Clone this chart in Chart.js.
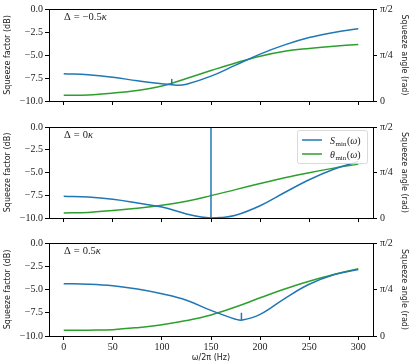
<!DOCTYPE html>
<html>
<head>
<meta charset="utf-8">
<script src="https://cdn.jsdelivr.net/npm/chart.js@4.4.1/dist/chart.umd.min.js"></script>
<style>
    body { margin: 0; background: #fff; width: 415px; height: 364px; position: relative; overflow: hidden; }
    canvas { position: absolute; left: 0; }
</style>
</head>
<body>
<canvas id="painel1" width="415" height="112" style="top:0px"></canvas>
<canvas id="painel2" width="415" height="111" style="top:118px"></canvas>
<canvas id="painel3" width="415" height="130" style="top:234px"></canvas>
<script>
// dados
var ticksX = [0, 50, 100, 150, 200, 250, 300];
var ticksFator = [-10, -7.5, -5, -2.5, 0];
var ticksAngulo = [0, Math.PI / 4, Math.PI / 2];
var rotulosAngulo = ['0', 'π/4', 'π/2'];
var rotulosDelta = ['−0.5', '0', '0.5'];

var freqAngulo = [0, 25, 50, 75, 100, 125, 150, 175, 200, 225, 250, 275, 300];

var freqFator1 = [0, 25, 50, 75, 100, 115, 125, 150, 175, 200, 225, 250, 275, 300];
var fator1 = [-7.04, -7.15, -7.42, -7.8, -8.12, -8.28, -8.18, -7.3, -6.1, -4.9, -3.9, -3.1, -2.55, -2.15];
var angulo1 = [0.097, 0.104, 0.135, 0.181, 0.255, 0.385, 0.52, 0.65, 0.765, 0.85, 0.898, 0.935, 0.966];
var picoX1 = [110, 110];
var picoY1 = [-8.26, -7.6];

var freqFator2 = [0, 25, 50, 75, 100, 125, 140, 150, 160, 175, 200, 225, 250, 275, 300];
var fator2 = [-7.6, -7.7, -7.95, -8.35, -8.8, -9.55, -9.9, -10, -9.95, -9.7, -8.65, -7.2, -5.8, -4.65, -3.8];
var angulo2 = [0.086, 0.097, 0.130, 0.168, 0.22, 0.29, 0.386, 0.49, 0.595, 0.695, 0.782, 0.861, 0.930];
var picoX2 = [150, 150];
var picoY2 = [-10, 0];

var freqFator3 = [0, 25, 50, 75, 100, 125, 150, 175, 182, 200, 225, 250, 275, 300];
var fator3 = [-4.37, -4.43, -4.6, -4.95, -5.46, -6.15, -7.25, -8.19, -8.29, -7.68, -5.97, -4.44, -3.42, -2.84];
var angulo3 = [0.096, 0.099, 0.107, 0.141, 0.19, 0.26, 0.355, 0.49, 0.645, 0.795, 0.925, 1.04, 1.135];
var picoX3 = [181, 181];
var picoY3 = [-8.29, -7.5];

var AZUL = '#1f77b4';
var VERDE = '#2ca02c';
var fonteTicks = { family: 'Liberation Serif', size: 10 };
var fonteTitulo = { family: 'DejaVu Sans', size: 8 };

function pares(xs, ys) {
    return xs.map(function (x, i) { return { x: x, y: ys[i] }; });
}

// escreve S_min(ω) / θ_min(ω) com subscrito
function textoMatematico(ctx, letra, x, y) {
    ctx.textBaseline = 'alphabetic';
    ctx.textAlign = 'left';
    ctx.font = 'italic 10px "Liberation Serif"';
    ctx.fillText(letra, x, y);
    x += ctx.measureText(letra).width + 0.5;
    ctx.font = '7px "Liberation Serif"';
    ctx.fillText('min', x, y + 2);
    x += ctx.measureText('min').width + 0.5;
    ctx.font = '10px "Liberation Serif"';
    ctx.fillText('(', x, y);
    x += ctx.measureText('(').width;
    ctx.font = 'italic 10px "Liberation Serif"';
    ctx.fillText('ω', x, y);
    x += ctx.measureText('ω').width;
    ctx.font = '10px "Liberation Serif"';
    ctx.fillText(')', x, y);
}

var pluginMoldura = {
    id: 'moldura',
    afterDatasetsDraw: function (chart) {
        var a = chart.chartArea;
        var ctx = chart.ctx;
        ctx.save();
        ctx.strokeStyle = '#000';
        ctx.lineWidth = 1;
        ctx.strokeRect(Math.round(a.left) + 0.5, Math.round(a.top) + 0.5, Math.round(a.right - a.left), Math.round(a.bottom - a.top));

        var op = chart.options.plugins.moldura;
        ctx.fillStyle = '#222';
        ctx.font = '10.5px "Liberation Serif"';
        ctx.textBaseline = 'alphabetic';
        var x = 64;
        var y = a.top + 10.5;
        ctx.fillText('Δ', x, y);
        x += ctx.measureText('Δ').width + 3;
        ctx.fillText('=', x, y);
        x += ctx.measureText('=').width + 3;
        ctx.fillText(op.delta, x, y);
        x += ctx.measureText(op.delta).width;
        ctx.font = 'italic 10.5px "Liberation Serif"';
        ctx.fillText('κ', x, y);

        if (op.legenda) {
            ctx.fillStyle = 'rgba(255,255,255,0.85)';
            ctx.strokeStyle = '#d0d0d0';
            ctx.lineWidth = 0.8;
            ctx.beginPath();
            ctx.roundRect(297.5, a.top + 3.5, 70, 33, 2);
            ctx.fill();
            ctx.stroke();
            var itens = [[AZUL, 'S'], [VERDE, 'θ']];
            itens.forEach(function (item, i) {
                var yy = a.top + 13 + i * 14;
                ctx.strokeStyle = item[0];
                ctx.lineWidth = 1.5;
                ctx.beginPath();
                ctx.moveTo(302, yy);
                ctx.lineTo(322, yy);
                ctx.stroke();
                ctx.fillStyle = '#222';
                textoMatematico(ctx, item[1], 330, yy + 3.5);
            });
        }
        ctx.restore();
    }
};

function criarPainel(id, freqFator, fator, angulo, picoX, picoY, delta, comEixoX, legenda) {
    var elemento = document.getElementById(id);

    if (!elemento)
        return;

    var contexto = elemento.getContext('2d');

    new Chart(contexto, {
        type: 'line',
        data: {
            datasets: [{
                label: 'S_min',
                data: pares(freqFator, fator),
                borderColor: AZUL,
                borderWidth: 1.5,
                pointRadius: 0,
                tension: 0.4,
                yAxisID: 'y'
            }, {
                label: 'pico',
                data: pares(picoX, picoY),
                borderColor: AZUL,
                borderWidth: 1.5,
                pointRadius: 0,
                tension: 0,
                yAxisID: 'y'
            }, {
                label: 'theta_min',
                data: pares(freqAngulo, angulo),
                borderColor: VERDE,
                borderWidth: 1.5,
                pointRadius: 0,
                tension: 0.4,
                yAxisID: 'y2'
            }]
        },
        options: {
            responsive: false,
            animation: false,
            devicePixelRatio: 1,
            layout: { padding: { top: 4, left: 0, right: 0, bottom: 0 } },
            scales: {
                x: {
                    type: 'linear',
                    min: -15,
                    max: 315,
                    afterBuildTicks: function (s) { s.ticks = ticksX.map(function (v) { return { value: v }; }); },
                    afterFit: function (s) { s.height = comEixoX ? 28 : 11; },
                    grid: { drawOnChartArea: false, drawTicks: true, tickLength: 4, color: '#000' },
                    border: { display: true, color: '#000' },
                    ticks: { display: comEixoX, color: '#222', font: fonteTicks, padding: 1, maxRotation: 0 },
                    title: {
                        display: comEixoX,
                        text: 'ω/2π (Hz)',
                        color: '#222',
                        font: fonteTitulo,
                        padding: { top: 0, bottom: 1 }
                    }
                },
                y: {
                    position: 'left',
                    min: -10,
                    max: 0,
                    afterBuildTicks: function (s) { s.ticks = ticksFator.map(function (v) { return { value: v }; }); },
                    afterFit: function (s) { s.width = 49; },
                    grid: { drawOnChartArea: false, drawTicks: true, tickLength: 4, color: '#000' },
                    border: { display: true, color: '#000' },
                    ticks: {
                        color: '#222',
                        font: fonteTicks,
                        padding: 2,
                        callback: function (v) { return v.toFixed(1).replace('-', '−'); }
                    },
                    title: {
                        display: true,
                        text: 'Squeeze factor (dB)',
                        color: '#222',
                        font: fonteTitulo,
                        padding: { top: 3, bottom: 0 }
                    }
                },
                y2: {
                    position: 'right',
                    min: 0,
                    max: Math.PI / 2,
                    afterBuildTicks: function (s) { s.ticks = ticksAngulo.map(function (v) { return { value: v }; }); },
                    afterFit: function (s) { s.width = 42; },
                    grid: { drawOnChartArea: false, drawTicks: true, tickLength: 4, color: '#000' },
                    border: { display: true, color: '#000' },
                    ticks: {
                        color: '#222',
                        font: fonteTicks,
                        padding: 3,
                        callback: function (v, i) { return rotulosAngulo[i]; }
                    },
                    title: {
                        display: true,
                        text: 'Squeeze angle (rad)',
                        color: '#222',
                        font: fonteTitulo,
                        padding: { top: 6, bottom: 0 }
                    }
                }
            },
            plugins: {
                legend: { display: false },
                tooltip: { enabled: false },
                moldura: { delta: delta, legenda: legenda }
            }
        },
        plugins: [pluginMoldura]
    });
}

criarPainel('painel1', freqFator1, fator1, angulo1, picoX1, picoY1, rotulosDelta[0], false, false);
criarPainel('painel2', freqFator2, fator2, angulo2, picoX2, picoY2, rotulosDelta[1], false, true);
criarPainel('painel3', freqFator3, fator3, angulo3, picoX3, picoY3, rotulosDelta[2], true, false);
</script>
</body>
</html>
